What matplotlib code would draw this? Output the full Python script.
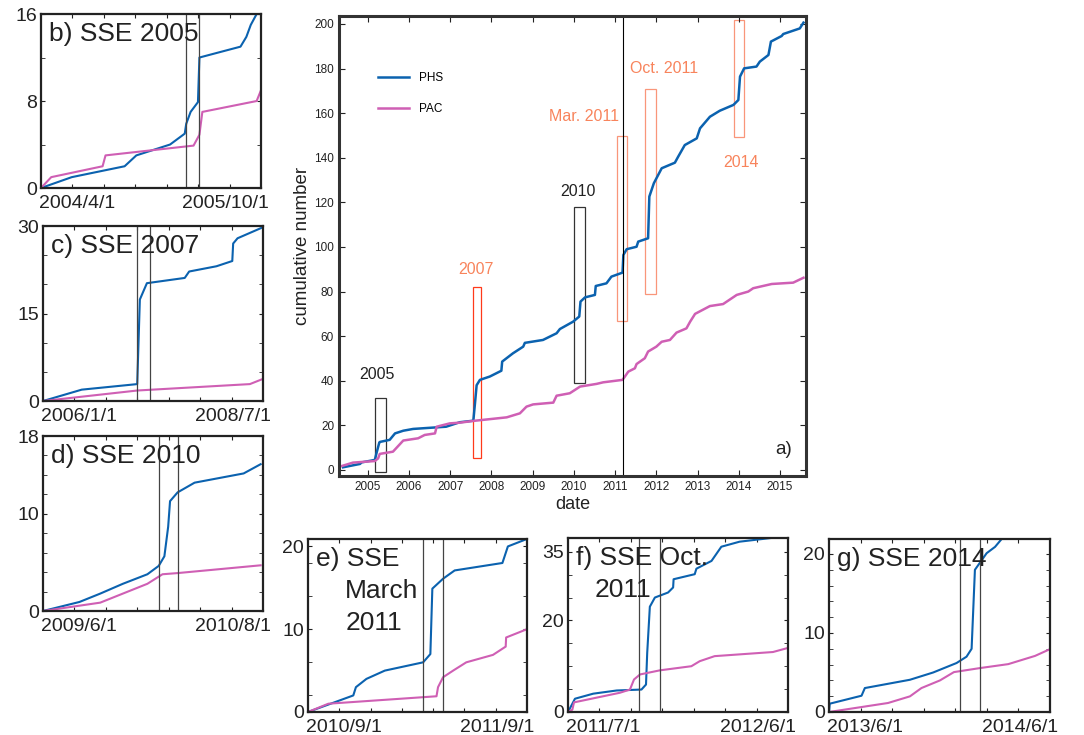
import matplotlib
matplotlib.use("Agg")
import matplotlib.pyplot as plt
import numpy as np

plt.rcParams['font.family'] = ['Liberation Sans', 'DejaVu Sans']

BLUE = '#0B62AF'
PINK = '#CF5FB4'
ORANGE = '#F8845C'
TXT = '#222222'

# ---- main panel a): cumulative number vs decimal year ----
phs_t = [2004.40, 2004.81, 2004.85, 2005.17, 2005.21, 2005.28, 2005.30, 2005.53, 2005.66, 2005.86,
         2006.10, 2006.90, 2007.23, 2007.56, 2007.60, 2007.64, 2007.72, 2007.96, 2008.24, 2008.26,
         2008.52, 2008.77, 2008.81, 2009.25, 2009.58, 2009.66, 2009.98, 2010.13, 2010.16, 2010.27,
         2010.51, 2010.53, 2010.79, 2010.91, 2011.18, 2011.20, 2011.28, 2011.52, 2011.56, 2011.80,
         2011.83, 2011.94, 2012.13, 2012.45, 2012.53, 2012.69, 2012.98, 2013.06, 2013.30, 2013.54,
         2013.87, 2013.99, 2014.03, 2014.13, 2014.43, 2014.51, 2014.72, 2014.78, 2015.04, 2015.08,
         2015.48, 2015.57]
phs_n = [1.2, 2.7, 3.4, 4.5, 7.5, 12.4, 12.6, 13.5, 16.4, 17.6,
         18.4, 19.4, 21.4, 22.1, 29.9, 38.0, 40.4, 41.9, 44.5, 48.6,
         52.3, 55.3, 57.0, 58.3, 61.3, 63.2, 66.5, 68.8, 75.5, 77.4,
         78.5, 82.5, 83.7, 86.7, 88.5, 96.4, 99.0, 100.1, 102.4, 103.9,
         122.6, 128.6, 135.3, 137.8, 140.5, 145.7, 148.7, 153.2, 158.4, 161.1,
         163.7, 165.9, 176.4, 180.1, 180.9, 183.1, 186.1, 192.1, 194.6, 195.5,
         198.0, 200.6]
pac_t = [2004.32, 2004.64, 2005.17, 2005.25, 2005.29, 2005.61, 2005.86, 2006.22, 2006.38, 2006.63,
         2006.67, 2006.99, 2007.23, 2007.56, 2008.37, 2008.69, 2008.85, 2009.01, 2009.50, 2009.58,
         2009.90, 2010.15, 2010.55, 2010.71, 2011.18, 2011.32, 2011.48, 2011.52, 2011.72, 2011.80,
         2012.00, 2012.13, 2012.33, 2012.49, 2012.73, 2012.82, 2012.94, 2013.30, 2013.62, 2013.95,
         2014.23, 2014.35, 2014.80, 2015.32, 2015.57]
pac_n = [1.5, 3.3, 4.0, 5.2, 7.2, 8.2, 13.2, 14.2, 15.7, 16.4,
         19.4, 20.9, 21.2, 22.0, 23.6, 25.4, 28.4, 29.4, 30.2, 33.3,
         34.4, 37.4, 38.6, 39.3, 40.4, 44.1, 45.6, 47.5, 50.1, 53.1,
         55.3, 57.5, 58.3, 61.6, 63.5, 66.5, 70.0, 73.5, 74.4, 78.5,
         80.0, 81.5, 83.4, 84.0, 86.2]

# SSE boxes and their labels
box_labels = ['2005', '2007', '2010', 'Mar. 2011', 'Oct. 2011', '2014']
box_x = [(2005.17, 2005.43), (2007.54, 2007.74), (2010.00, 2010.26),
         (2011.04, 2011.30), (2011.73, 2012.00), (2013.88, 2014.13)]
box_y = [(-1.0, 32.4), (5.4, 81.9), (39.0, 117.8), (66.7, 149.6), (78.9, 171.0), (149.3, 201.8)]
label_xy = [(2005.23, 42.9), (2007.62, 90.0), (2010.11, 125.0), (2010.25, 158.7),
            (2012.18, 180.0), (2014.05, 138.0)]
box_colors = ['#333333', '#FF3A1A', '#333333', '#F9967A', '#F9967A', '#F9967A']
label_colors = [TXT, ORANGE, TXT, ORANGE, ORANGE, ORANGE]
tohoku = 2011.18

# ---- sub panels ----
subs = [
    dict(name='b) SSE 2005', lines=None, xlim=(2004.25, 2005.75), ylim=(0, 16),
         yt=[0, 8, 16], ym=[4, 12], xl=('2004/4/1', '2005/10/1'),
         bt=[2004.25, 2004.46, 2004.82, 2004.90, 2005.13, 2005.23, 2005.24, 2005.27, 2005.32, 2005.33,
             2005.61, 2005.65, 2005.68, 2005.72, 2005.76],
         bn=[0, 1, 2, 3, 4, 5, 5.9, 7, 7.9, 12, 13, 13.9, 15, 16, 16.6],
         pt=[2004.25, 2004.32, 2004.67, 2004.69, 2005.29, 2005.33, 2005.35, 2005.72, 2005.75],
         pn=[0, 1, 2, 3, 3.9, 4.9, 7, 8, 9],
         vl=[2005.24, 2005.33], rect=[0.0378, 0.7442, 0.2030, 0.2367]),
    dict(name='c) SSE 2007', lines=None, xlim=(2006.0, 2008.5), ylim=(0, 30),
         yt=[0, 15, 30], ym=[5, 10, 20, 25], xl=('2006/1/1', '2008/7/1'),
         bt=[2006.0, 2006.44, 2007.07, 2007.10, 2007.18, 2007.61, 2007.66, 2007.97, 2008.15, 2008.16,
             2008.21, 2008.5],
         bn=[0, 1.95, 2.9, 17.4, 20.2, 21.1, 22.2, 23.1, 24.0, 27.0, 27.9, 29.8],
         pt=[2006.0, 2007.07, 2008.35, 2008.5], pn=[0, 1.8, 2.9, 3.8],
         vl=[2007.07, 2007.22], rect=[0.0397, 0.4544, 0.2030, 0.2381]),
    dict(name='d) SSE 2010', lines=None, xlim=(2009.417, 2010.583), ylim=(0, 18),
         yt=[0, 10, 18], ym=[2, 4, 6, 8, 12, 14, 16], xl=('2009/6/1', '2010/8/1'),
         bt=[2009.417, 2009.61, 2009.72, 2009.84, 2009.97, 2010.03, 2010.06, 2010.08, 2010.09, 2010.13,
             2010.22, 2010.48, 2010.57],
         bn=[0, 0.93, 1.79, 2.8, 3.78, 4.64, 5.63, 8.66, 11.3, 12.2, 13.2, 14.15, 15.1],
         pt=[2009.417, 2009.72, 2009.97, 2010.05, 2010.13, 2010.57],
         pn=[0, 0.86, 2.8, 3.78, 3.9, 4.7],
         vl=[2010.03, 2010.13], rect=[0.0397, 0.1687, 0.2030, 0.2381]),
    dict(name='e) SSE', lines=['March', '2011'], xlim=(2010.667, 2011.667), ylim=(0, 20.9),
         yt=[0, 10, 20], ym=[2, 6, 14, 18], xl=('2010/9/1', '2011/9/1'),
         bt=[2010.667, 2010.874, 2010.886, 2010.934, 2011.018, 2011.193, 2011.226, 2011.235, 2011.284,
             2011.337, 2011.555, 2011.58, 2011.667],
         bn=[0, 2, 3, 4, 5, 6, 7, 14.9, 16.1, 17.1, 18, 20, 20.9],
         pt=[2010.667, 2010.76, 2011.254, 2011.261, 2011.284, 2011.33, 2011.39, 2011.512, 2011.57,
             2011.572, 2011.667],
         pn=[0, 1, 1.9, 3, 4.2, 5, 6, 6.9, 7.9, 9, 10],
         vl=[2011.193, 2011.284], rect=[0.2841, 0.0313, 0.2020, 0.2354]),
    dict(name='f) SSE Oct.', lines=['2011'], xlim=(2011.5, 2012.417), ylim=(0, 38),
         yt=[0, 20, 35], ym=[5, 10, 15, 25, 30], xl=('2011/7/1', '2012/6/1'),
         bt=[2011.5, 2011.516, 2011.529, 2011.605, 2011.703, 2011.806, 2011.825, 2011.83, 2011.841,
             2011.862, 2011.917, 2011.938, 2011.94, 2012.028, 2012.035, 2012.098, 2012.139, 2012.215,
             2012.361, 2012.417],
         bn=[0, 1.6, 2.9, 4.0, 4.7, 4.9, 6.0, 12.9, 23.0, 25.0, 26.1, 27.2, 29.0, 30.1, 31.3, 33.0,
             36.1, 37.2, 38.1, 39],
         pt=[2011.5, 2011.518, 2011.525, 2011.716, 2011.758, 2011.775, 2011.8, 2011.883, 2012.014,
             2012.049, 2012.111, 2012.354, 2012.417],
         pn=[0, 0.5, 2.1, 4.2, 4.9, 7.1, 8.2, 9.1, 10, 11.1, 12.2, 13.1, 14],
         vl=[2011.797, 2011.883], rect=[0.5240, 0.0313, 0.2030, 0.2367]),
    dict(name='g) SSE 2014', lines=None, xlim=(2013.417, 2014.417), ylim=(0, 21.9),
         yt=[0, 10, 20], ym=[2, 4, 6, 8, 12, 14, 16, 18], xl=('2013/6/1', '2014/6/1'),
         bt=[2013.417, 2013.42, 2013.564, 2013.579, 2013.783, 2013.888, 2013.994, 2014.039, 2014.062,
             2014.077, 2014.13, 2014.168, 2014.198, 2014.267],
         bn=[0, 1.05, 2.06, 3.03, 4.08, 5.0, 6.2, 7.0, 8.0, 18.0, 20.1, 20.9, 21.9, 24],
         pt=[2013.417, 2013.684, 2013.783, 2013.835, 2013.919, 2013.982, 2014.1, 2014.228, 2014.349,
             2014.417],
         pn=[0, 1.14, 1.98, 3.03, 4.0, 5.05, 5.56, 6.06, 7.1, 7.96],
         vl=[2014.009, 2014.1], rect=[0.7648, 0.0313, 0.2039, 0.2354]),
]

fig = plt.figure(figsize=(10.84, 7.35), dpi=100)

# main panel
ax = fig.add_axes([0.3127, 0.3524, 0.4308, 0.6259])
ax.plot(phs_t, phs_n, color=BLUE, lw=1.8, label='PHS')
ax.plot(pac_t, pac_n, color=PINK, lw=1.8, label='PAC')
for lab, (x0, x1), (y0, y1), bc, lc, (lx, ly) in zip(box_labels, box_x, box_y, box_colors,
                                                     label_colors, label_xy):
    ax.add_patch(plt.Rectangle((x0, y0), x1 - x0, y1 - y0, fill=False, ec=bc, lw=0.9))
    ax.text(lx, ly, lab, color=lc, fontsize=11.5, ha='center', va='center')
ax.axvline(tohoku, color='black', lw=0.8)
ax.text(2015.08, 9, 'a)', fontsize=13.5, ha='center', va='center', color=TXT)
ax.set_xlim(2004.30, 2015.63)
ax.set_ylim(-2.7, 203.6)
ax.set_xticks(range(2005, 2016))
ax.set_yticks(range(0, 201, 20))
ax.tick_params(direction='in', top=True, right=True, labelsize=8.5, length=4, colors=TXT)
ax.set_xlabel('date', fontsize=13, color=TXT, labelpad=2)
ax.set_ylabel('cumulative number', fontsize=13.5, color=TXT, labelpad=2)
for s in ax.spines.values():
    s.set_linewidth(2.2)
    s.set_color('#333333')
ax.legend(loc='upper left', bbox_to_anchor=(0.07, 0.89), frameon=False, fontsize=8.5,
          handlelength=2.7, handletextpad=0.8, labelspacing=1.6, borderpad=0)

# sub panels
for p in subs:
    a = fig.add_axes(p['rect'])
    a.plot(p['bt'], p['bn'], color=BLUE, lw=1.5)
    a.plot(p['pt'], p['pn'], color=PINK, lw=1.5)
    for v in p['vl']:
        a.axvline(v, color='#444444', lw=0.9)
    a.set_xlim(*p['xlim'])
    a.set_ylim(*p['ylim'])
    a.set_yticks(p['yt'])
    a.set_yticks(p['ym'], minor=True)
    x0, x1 = p['xlim']
    a.set_xticks(np.linspace(x0, x1, 8)[1:-1])
    a.set_xticklabels([])
    a.tick_params(which='both', direction='in', top=True, right=True, length=3,
                  labelsize=14, colors=TXT, pad=3)
    for s in a.spines.values():
        s.set_linewidth(1.6)
        s.set_color('#222222')
    a.text(0.035, 0.955, p['name'], transform=a.transAxes, fontsize=19, color=TXT,
           ha='left', va='top')
    if p['lines']:
        indent = 0.17 if p['name'].startswith('e') else 0.12
        for i, ln in enumerate(p['lines']):
            a.text(indent, 0.955 - 0.185 * (i + 1), ln, transform=a.transAxes, fontsize=19,
                   color=TXT, ha='left', va='top')
    a.text(-0.01, -0.04, p['xl'][0], transform=a.transAxes, fontsize=14, color=TXT,
           ha='left', va='top')
    a.text(1.035, -0.04, p['xl'][1], transform=a.transAxes, fontsize=14, color=TXT,
           ha='right', va='top')

fig.savefig('out.png', dpi=100)
